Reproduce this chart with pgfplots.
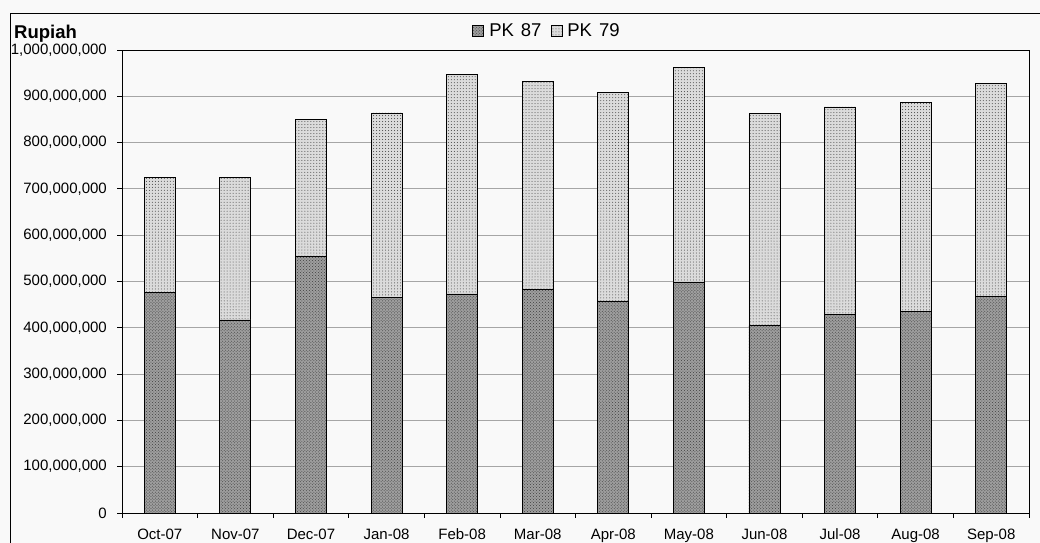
\documentclass[border=0pt]{standalone}
\usepackage{pgfplots}
\pgfplotsset{compat=1.18}
\usepackage{pgfplotstable}
\usetikzlibrary{patterns}
\usepackage{fontspec}
\setmainfont{Liberation Sans}

\pgfplotstableread{
x pk87 pk79
0 476000000 248000000
1 417000000 307000000
2 555000000 294000000
3 466000000 398000000
4 473000000 474000000
5 483000000 450000000
6 458000000 451000000
7 499000000 463000000
8 405000000 457000000
9 429000000 448000000
10 435000000 452000000
11 468000000 459000000
}\data

\begin{document}
\begin{tikzpicture}[x=1bp,y=1bp]
\useasboundingbox (0,0) rectangle (1040,543);
\fill[gray!5] (0,0) rectangle (1040,543);
\draw[black, line width=1bp] (10,-10) -- (10,529) -- (1050,529);
\node[anchor=base west, inner sep=0pt, font=\fontsize{18.5bp}{20bp}\selectfont\bfseries] at (14,504.5) {Rupiah};
\begin{axis}[
  at={(122bp,30bp)}, anchor=south west,
  scale only axis, width=907bp, height=463bp,
  ybar stacked, bar width=31bp,
  xmin=-0.5, xmax=11.5, ymin=0, ymax=1000000000,
  xtick={0,1,2,3,4,5,6,7,8,9,10,11},
  xticklabels={Oct-07,Nov-07,Dec-07,Jan-08,Feb-08,Mar-08,Apr-08,May-08,Jun-08,Jul-08,Aug-08,Sep-08},
  minor xtick={-0.5,0.5,1.5,2.5,3.5,4.5,5.5,6.5,7.5,8.5,9.5,10.5,11.5},
  every major x tick/.append style={draw=none},
  xtick pos=bottom, ytick pos=left,
  tick align=outside,
  major tick length=5bp, minor tick length=5bp,
  tick style={black, line width=0.8bp},
  ytick={0,100000000,200000000,300000000,400000000,500000000,600000000,700000000,800000000,900000000,1000000000},
  yticklabels={0,{100,000,000},{200,000,000},{300,000,000},{400,000,000},{500,000,000},{600,000,000},{700,000,000},{800,000,000},{900,000,000},{1,000,000,000}},
  scaled y ticks=false,
  ymajorgrids, major grid style={gray!70, line width=0.8bp},
  axis line style={black, line width=0.8bp},
  tick label style={font=\fontsize{15bp}{18bp}\selectfont},
  yticklabel style={anchor=east, inner sep=0pt, xshift=-10bp},
  xticklabel style={anchor=base, inner sep=0pt, yshift=-21.5bp},
  legend columns=2,
  legend style={at={(0.4675,1.041)}, anchor=center, draw=none, fill=none,
    font=\fontsize{18.5bp}{20bp}\selectfont,
    nodes={inner sep=0pt},
    /tikz/every even column/.style={column sep=9bp}},
  legend image code/.code={\draw[#1] (0bp,-5.5bp) rectangle (11bp,5.5bp); \path (16bp,0bp);},
]
\addplot[fill=black!38, draw=black, line width=0.8bp, postaction={pattern=crosshatch dots, pattern color=black!75}] table[x=x,y=pk87]{\data};
\addplot[fill=black!14, draw=black, line width=0.8bp, postaction={pattern=dots, pattern color=black!75}] table[x=x,y=pk79]{\data};
\legend{PK\hspace{7bp}87, PK\hspace{7bp}79}
\end{axis}
\end{tikzpicture}
\end{document}
